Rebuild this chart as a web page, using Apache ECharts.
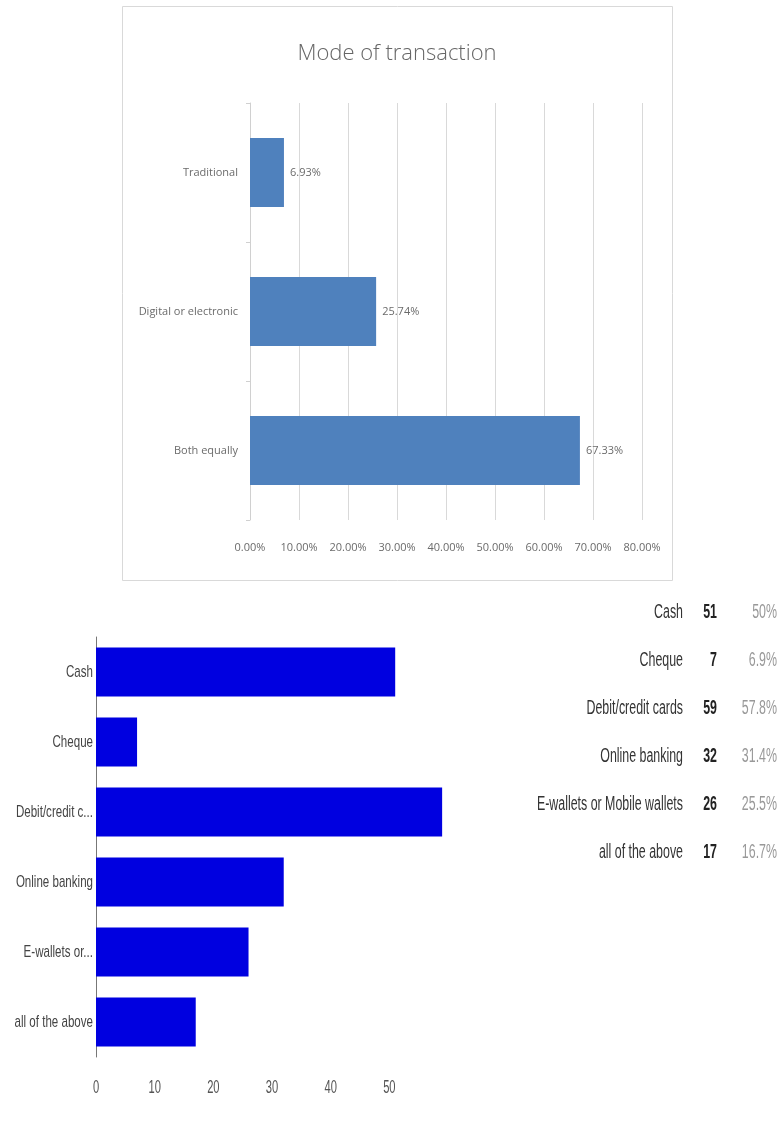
<!DOCTYPE html>
<html>
<head>
<meta charset="utf-8">
<script src="https://cdn.jsdelivr.net/npm/echarts@6/dist/echarts.min.js"></script>
<style>
html,body{margin:0;padding:0;background:#fff;}
#main{width:782px;height:1133px;}
</style>
</head>
<body>
<div id="main"></div>
<script>
// ---- Chart 1: Mode of transaction ----
const modeTitle = 'Mode of transaction';
const modeCategories = ['Both equally', 'Digital or electronic', 'Traditional'];
const modeValues = [67.33, 25.74, 6.93];
const modeTicks = [0, 10, 20, 30, 40, 50, 60, 70, 80];

// ---- Chart 2: payment methods ----
const payCategories = ['Cash', 'Cheque', 'Debit/credit cards', 'Online banking', 'E-wallets or Mobile wallets', 'all of the above'];
const payAxisLabels = ['Cash', 'Cheque', 'Debit/credit c...', 'Online banking', 'E-wallets or...', 'all of the above'];
const payCounts = [51, 7, 59, 32, 26, 17];
const payPercents = ['50%', '6.9%', '57.8%', '31.4%', '25.5%', '16.7%'];
const payTicks = [0, 10, 20, 30, 40, 50];

const SANS = "'Liberation Sans', Arial, sans-serif";
const UI = "'Open Sans', 'Noto Sans', sans-serif";

const chart = echarts.init(document.getElementById('main'), null, {renderer: 'canvas'});

const option = {
  animation: false,
  backgroundColor: '#fff',
  title: [{
    text: modeTitle, left: 392, top: 38, textAlign: 'center',
    textStyle: {fontFamily: UI, fontSize: 22, fontWeight: 300, color: '#666'}
  }],
  grid: [
    {left: 250, top: 103, width: 392, height: 417, containLabel: false},
    {left: 96, top: 637, width: 352, height: 420, containLabel: false}
  ],
  xAxis: [
    {
      gridIndex: 0, type: 'value', min: modeTicks[0], max: modeTicks[modeTicks.length - 1], interval: 10,
      axisLine: {show: false}, axisTick: {show: false},
      splitLine: {show: true, lineStyle: {color: '#d9d9d9', width: 1}},
      axisLabel: {margin: 22, fontFamily: UI, fontSize: 11, color: '#6b6b6b', formatter: v => v.toFixed(2) + '%'}
    },
    {
      gridIndex: 1, type: 'value', min: 0, max: 60, interval: 10,
      axisLine: {show: false}, axisTick: {show: false}, splitLine: {show: false},
      axisLabel: {show: false}
    }
  ],
  yAxis: [
    {
      gridIndex: 0, type: 'category', data: modeCategories,
      axisLine: {show: true, lineStyle: {color: '#d0d0d0'}},
      axisTick: {show: true, length: 4, lineStyle: {color: '#d0d0d0'}},
      axisLabel: {margin: 12, fontFamily: UI, fontSize: 11, color: '#6b6b6b'}
    },
    {
      gridIndex: 1, type: 'category', data: payCategories, inverse: true,
      axisLine: {show: true, lineStyle: {color: '#777', width: 1}},
      axisTick: {show: false},
      axisLabel: {show: false}
    }
  ],
  series: [
    {
      type: 'bar', xAxisIndex: 0, yAxisIndex: 0, data: modeValues, barWidth: 69,
      itemStyle: {color: '#4f81bd'},
      label: {show: true, position: 'right', distance: 6, fontFamily: UI, fontSize: 11, color: '#6b6b6b',
        formatter: p => p.value.toFixed(2) + '%'}
    },
    {
      type: 'bar', xAxisIndex: 1, yAxisIndex: 1, data: payCounts, barWidth: 49,
      itemStyle: {color: '#0000e0'}
    }
  ]
};
chart.setOption(option);

// narrow (condensed) text helper: scaled horizontally around its anchor
function narrowText(x, y, text, opts) {
  return {
    type: 'text', x: x, y: y, scaleX: opts.scaleX, silent: true,
    style: {text: text, align: opts.align || 'right', verticalAlign: 'middle',
      font: (opts.bold ? 'bold ' : '') + opts.size + 'px ' + SANS, fill: opts.color}
  };
}

const graphics = [
  {type: 'rect', shape: {x: 122.5, y: 6.5, width: 550, height: 574}, style: {fill: 'none', stroke: '#d9d9d9', lineWidth: 1}, z: -1}
];

// category labels of the second chart, placed with the library's axis scale
const axisX0 = chart.convertToPixel({xAxisIndex: 1}, 0);
payCategories.forEach((c, i) => {
  const y = chart.convertToPixel({yAxisIndex: 1}, c);
  graphics.push(narrowText(axisX0 - 3, y, payAxisLabels[i], {size: 17, scaleX: 0.68, color: '#444'}));
});
payTicks.forEach(v => {
  const x = chart.convertToPixel({xAxisIndex: 1}, v);
  graphics.push(narrowText(x, 1088, String(v), {size: 18, scaleX: 0.62, color: '#555', align: 'center'}));
});

// summary table
payCategories.forEach((c, i) => {
  const y = 612 + i * 48;
  graphics.push(narrowText(683, y, c, {size: 20, scaleX: 0.62, color: '#333'}));
  graphics.push(narrowText(717, y, String(payCounts[i]), {size: 20, scaleX: 0.62, color: '#222', bold: true}));
  graphics.push(narrowText(777, y, payPercents[i], {size: 20, scaleX: 0.62, color: '#999'}));
});

chart.setOption({graphic: graphics});
</script>
</body>
</html>
